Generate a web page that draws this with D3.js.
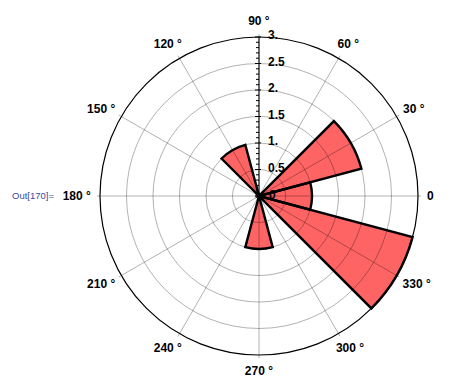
<!DOCTYPE html>
<html>
<head>
<meta charset="utf-8">
<script src="https://cdn.jsdelivr.net/npm/d3@7"></script>
<style>
  body { margin: 0; background: #fff; }
  svg { display: block; }
  .ang-label, .rad-label { font-family: "Liberation Sans", Arial, sans-serif; font-weight: bold; font-size: 12px; fill: #000; }
  .out-label { font-family: "Liberation Sans", Arial, sans-serif; font-size: 9.5px; fill: #3a4c9c; }
</style>
</head>
<body>
<svg id="chart" width="457" height="383"></svg>
<script>
// bin centres (degrees, counter-clockwise from east) and bar lengths
const binAngles = [0, 30, 60, 90, 120, 150, 180, 210, 240, 270, 300, 330];
const binValues = [1.0, 2.0, 0, 0, 1.0, 0, 0, 0, 0, 1.0, 0, 3.0];
const binWidth = 30;

const angleTicks = [0, 30, 60, 90, 120, 150, 180, 210, 240, 270, 300, 330];
const angleTickLabels = ['0', '30 °', '60 °', '90 °', '120 °', '150 °', '180 °', '210 °', '240 °', '270 °', '300 °', '330 °'];
const radialTicks = [0.5, 1, 1.5, 2, 2.5, 3];
const radialTickLabels = ['0.5', '1.', '1.5', '2.', '2.5', '3.'];

const cx = 259, cy = 196, R = 159;
const rad = d => d * Math.PI / 180;

const svg = d3.select('#chart');
const r = d3.scaleLinear().domain([0, 3]).range([0, R]);

svg.append('text')
  .attr('class', 'out-label')
  .attr('x', 12)
  .attr('y', 196)
  .attr('dominant-baseline', 'middle')
  .text('Out[170]=');

const g = svg.append('g').attr('transform', `translate(${cx},${cy})`);

// wedges
const arc = d3.arc()
  .innerRadius(0)
  .outerRadius(d => r(d.v))
  .startAngle(d => Math.PI / 2 - rad(d.a + binWidth / 2))
  .endAngle(d => Math.PI / 2 - rad(d.a - binWidth / 2));

const bins = binAngles.map((a, i) => ({ a, v: binValues[i] })).filter(d => d.v > 0);

g.append('g')
  .selectAll('path')
  .data(bins)
  .join('path')
  .attr('d', arc)
  .attr('fill', '#ff6464')
  .attr('stroke', 'none');

// grid, drawn over the wedges so they show through
const grid = g.append('g').attr('stroke', 'rgba(0,0,0,0.3)').attr('fill', 'none');
grid.selectAll('circle')
  .data(radialTicks.slice(0, -1))
  .join('circle')
  .attr('r', d => r(d));
grid.selectAll('line')
  .data(angleTicks)
  .join('line')
  .attr('x1', 0).attr('y1', 0)
  .attr('x2', d => (R + 3) * Math.cos(rad(d)))
  .attr('y2', d => -(R + 3) * Math.sin(rad(d)));

// wedge outlines
g.append('g')
  .selectAll('path')
  .data(bins)
  .join('path')
  .attr('d', arc)
  .attr('fill', 'none')
  .attr('stroke', '#000')
  .attr('stroke-width', 2.4)
  .attr('stroke-linejoin', 'miter');

// outer circle
g.append('circle').attr('r', R).attr('fill', 'none').attr('stroke', '#000').attr('stroke-width', 1.2);

// radial axis on 90 degrees
const axis = g.append('g').attr('stroke', '#000');
axis.append('line').attr('x1', 0).attr('x2', 0).attr('y1', 0).attr('y2', -R);
const minor = d3.range(0, 31).map(i => i / 10);
axis.selectAll('line.tick')
  .data(minor)
  .join('line')
  .attr('class', 'tick')
  .attr('x1', d => (Math.round(d * 10) % 5 === 0 ? -4 : -3))
  .attr('x2', d => (Math.round(d * 10) % 5 === 0 ? 2 : 0))
  .attr('y1', d => -r(d))
  .attr('y2', d => -r(d));

g.selectAll('text.rad-label')
  .data(radialTicks)
  .join('text')
  .attr('class', 'rad-label')
  .attr('x', 9)
  .attr('y', d => -r(d) - 1)
  .attr('dominant-baseline', 'middle')
  .text((d, i) => radialTickLabels[i]);

g.append('text')
  .attr('class', 'rad-label')
  .attr('x', 10)
  .attr('y', 0)
  .attr('font-size', 8)
  .attr('dominant-baseline', 'middle')
  .attr('fill', '#1a2a6a')
  .text('0');

// angle labels, aligned away from the circle
const labels = g.selectAll('text.ang-label')
  .data(angleTicks)
  .join('text')
  .attr('class', 'ang-label')
  .text((d, i) => angleTickLabels[i]);

labels.each(function (d) {
  const t = d3.select(this);
  const b = this.getBBox();
  const c = Math.cos(rad(d)), s = Math.sin(rad(d));
  const px = 168 * c, py = -168 * s;
  const x = px - b.width * (1 - c) / 2;
  const top = py - b.height * (1 + s) / 2;
  t.attr('x', x).attr('y', top - b.y);
});
</script>
</body>
</html>
